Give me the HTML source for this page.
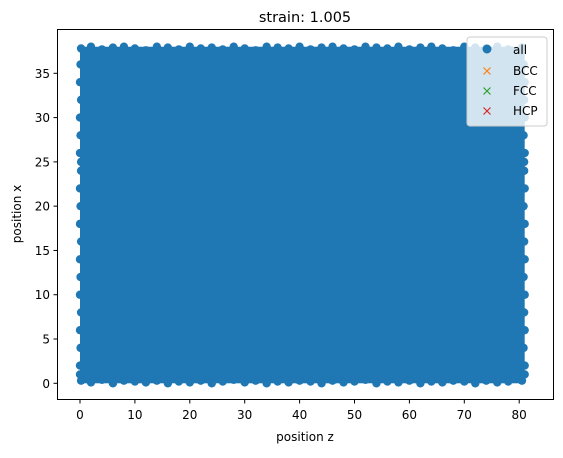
<!DOCTYPE html>
<html><head><meta charset="utf-8"><style>
body{margin:0;background:#fff;}
svg text{font-family:"DejaVu Sans","Liberation Sans",sans-serif;}
</style></head><body>
<svg id="chart" width="563" height="453" viewBox="0 0 563 453" xmlns="http://www.w3.org/2000/svg">
<rect width="563" height="453" fill="#fff"/>
<g id="plot"></g>
<rect x="57.5" y="29.5" width="496" height="370" fill="none" stroke="#000" stroke-width="1"/>
<g id="xticks"></g>
<g id="yticks"></g>
<text x="305" y="22" font-size="14.5" text-anchor="middle">strain: 1.005</text>
<text x="305" y="441" font-size="12" text-anchor="middle">position z</text>
<text x="21" y="214" font-size="12" text-anchor="middle" transform="rotate(-90 21 214)">position x</text>
<g>
<rect x="467" y="37" width="80" height="89" rx="3" fill="#fff" fill-opacity="0.8" stroke="#ccc"/>
<g><circle cx="487" cy="49" r="4.5" fill="#1f77b4"/><text x="513" y="54" font-size="12">all</text></g>
<g><path d="M483.5 67.5l7 7M490.5 67.5l-7 7" stroke="#ff7f0e" stroke-width="1.2"/><text x="513" y="75" font-size="12">BCC</text></g>
<g><path d="M483.5 87.5l7 7M490.5 87.5l-7 7" stroke="#2ca02c" stroke-width="1.2"/><text x="513" y="95" font-size="12">FCC</text></g>
<g><path d="M483.5 107.5l7 7M490.5 107.5l-7 7" stroke="#d62728" stroke-width="1.2"/><text x="513" y="115" font-size="12">HCP</text></g>
</g>
</svg>
<script>
const xTicks=[0,10,20,30,40,50,60,70,80];
const yTicks=[0,5,10,15,20,25,30,35];
// sample of atom positions (z) along boundary rows
const pointsZ=[0.2,2,4,6,8,10,12,14,16,18,20,22,24,26,28,30,32,34,36,38,40,42,44,46,48,50,52,54,56,58,60,62,64,66,68,70,72,74,76,78,80.5,
 0.2,2,4,6,8,10,12,14,16,18,20,22,24,26,28,30,32,34,36,38,40,42,44,46,48,50,52,54,56,58,60,62,64,66,68,70,72,74,76,78,80.5,
 0,0.1,0,0.2,0,0.1,0,0.2,0,0.1,0,0.2,0,0.1,0,0.2,0,0.1,0,0.2,
 81,80.8,81,80.9,81,80.8,81,80.9,81,80.8,81,80.9,81,80.8,81,80.9,81,80.8,81,80.9];
const pointsX=[0.3,0.1,0.4,0,0.3,0.2,0.1,0.3,0,0.2,0.1,0.3,0,0.2,0.4,0.1,0.3,0,0.2,0.1,0.3,0.2,0,0.3,0.1,0.2,0.4,0,0.2,0.1,0.3,0,0.2,0.1,0.3,0.2,0,0.3,0.1,0.2,0.3,
 37.8,38,37.7,37.9,38,37.8,37.6,38,37.9,37.7,38,37.8,37.9,37.7,38,37.8,37.6,38,37.9,37.8,38,37.7,37.9,38,37.8,37.7,38,37.9,37.8,38,37.7,37.9,38,37.8,37.6,38,37.9,37.8,38,37.7,37.9,
 2,4,6,8,10,12,14,16,18,20,22,24,26,28,30,32,34,36,1,25,
 2,4,6,8,10,12,14,16,18,20,22,24,26,28,30,32,34,36,1,25];
const X0=80,XS=5.49,Y0=383.3,YS=8.857;
const xs=v=>X0+v*XS, ys=v=>Y0-v*YS;
const NS="http://www.w3.org/2000/svg";
const plot=document.getElementById('plot');
const zmin=Math.min(...pointsZ),zmax=Math.max(...pointsZ),xmin=Math.min(...pointsX),xmax=Math.max(...pointsX);
const fill=document.createElementNS(NS,'rect');


fill.setAttribute('x',xs(zmin));fill.setAttribute('y',ys(xmax));
fill.setAttribute('width',xs(zmax)-xs(zmin));fill.setAttribute('height',ys(xmin)-ys(xmax));
fill.setAttribute('fill','#1f77b4');plot.appendChild(fill);
for(let i=0;i<pointsZ.length;i++){
 const c=document.createElementNS(NS,'circle');
 
 
 c.setAttribute('cx',xs(pointsZ[i]));c.setAttribute('cy',ys(pointsX[i]));
 c.setAttribute('r',4.2);c.setAttribute('fill','#1f77b4');plot.appendChild(c);
}
const xg=document.getElementById('xticks');
xTicks.forEach(t=>{
 const l=document.createElementNS(NS,'line');
 
 
 l.setAttribute('x1',xs(t));l.setAttribute('x2',xs(t));l.setAttribute('y1',400);l.setAttribute('y2',403.5);l.setAttribute('stroke','#000');xg.appendChild(l);
 const tx=document.createElementNS(NS,'text');
 
 
 tx.setAttribute('x',xs(t));tx.setAttribute('y',419);tx.setAttribute('font-size','12');tx.setAttribute('text-anchor','middle');tx.textContent=t;xg.appendChild(tx);
});
const yg=document.getElementById('yticks');
yTicks.forEach(t=>{
 const l=document.createElementNS(NS,'line');
 
 
 l.setAttribute('x1',53.5);l.setAttribute('x2',57.5);l.setAttribute('y1',ys(t));l.setAttribute('y2',ys(t));l.setAttribute('stroke','#000');yg.appendChild(l);
 const tx=document.createElementNS(NS,'text');
 
 
 tx.setAttribute('x',50);tx.setAttribute('y',ys(t)+4.5);tx.setAttribute('font-size','12');tx.setAttribute('text-anchor','end');tx.textContent=t;yg.appendChild(tx);
});
</script>
</body></html>
